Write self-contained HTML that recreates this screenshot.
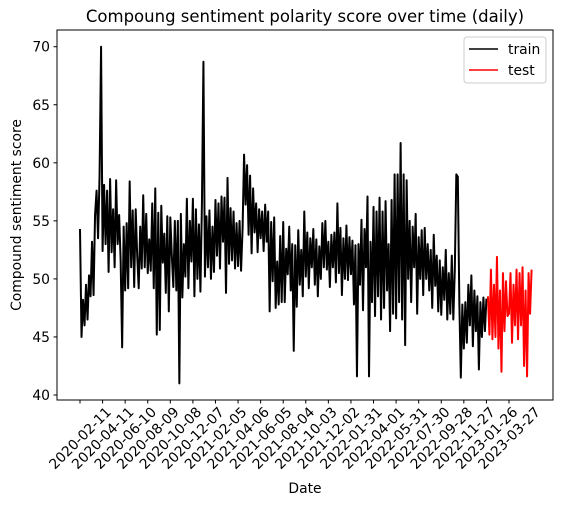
<!DOCTYPE html>
<html><head><meta charset="utf-8">
<style>
html,body{margin:0;padding:0;background:#fff;}
svg{display:block;font-family:"DejaVu Sans","Liberation Sans",sans-serif;}
</style></head>
<body>
<svg id="chart" width="563" height="506" viewBox="0 0 563 506" xmlns="http://www.w3.org/2000/svg">
<rect x="0" y="0" width="563" height="506" fill="#fff"/>
<text x="305" y="22" font-size="16.5" text-anchor="middle">Compoung sentiment polarity score over time (daily)</text>
<g id="plot"></g>
<rect x="57" y="30" width="496" height="370" fill="none" stroke="#000" stroke-width="1"/>
<text x="305" y="493" font-size="13.9" text-anchor="middle">Date</text>
<text transform="translate(21,215) rotate(-90)" font-size="13.9" text-anchor="middle">Compound sentiment score</text>
<g>
<rect x="464" y="37" width="82" height="46" rx="3" fill="#fff" fill-opacity="0.8" stroke="#ccc"/>
<line x1="469" y1="49" x2="498" y2="49" stroke="#000" stroke-width="1.6"/>
<text x="508" y="54" font-size="13.9">train</text>
<line x1="469" y1="70" x2="498" y2="70" stroke="red" stroke-width="1.6"/>
<text x="508" y="75" font-size="13.9">test</text>
</g>
</svg>
<script>
const tickLabels = ["2020-02-11","2020-04-11","2020-06-10","2020-08-09","2020-10-08","2020-12-07","2021-02-05","2021-04-06","2021-06-05","2021-08-04","2021-10-03","2021-12-02","2022-01-31","2022-04-01","2022-05-31","2022-07-30","2022-09-28","2022-11-27","2023-01-26","2023-03-27"];
const yTicks = [40,45,50,55,60,65,70];
const startDate = "2020-02-11";
const stepDays = 4;
const trainValues = [
54.3,45.0,48.2,46.0,49.5,46.5,50.3,48.5,53.2,48.6,
55.5,57.6,53.5,58.9,70.0,52.4,58.1,53.0,57.6,50.6,
58.6,52.3,56.0,51.0,58.5,53.0,55.5,51.6,44.1,54.5,
49.0,54.8,49.2,58.4,51.0,55.9,49.3,56.0,52.0,49.2,
54.5,50.9,57.2,51.0,55.6,50.5,53.4,50.7,56.5,49.2,
57.8,45.2,55.7,45.6,56.3,51.4,53.9,48.8,55.4,47.2,
55.3,52.0,49.3,55.0,49.0,55.0,41.0,55.6,48.4,53.0,
50.2,56.9,49.2,55.0,51.5,56.9,48.5,56.0,50.0,54.7,
48.9,56.5,68.7,50.2,55.4,51.0,55.9,50.0,54.5,50.6,
56.8,52.0,56.5,50.9,57.1,53.2,57.0,48.8,58.7,51.3,
56.1,51.6,55.8,50.9,54.8,51.1,55.0,50.7,54.3,60.7,
56.4,59.8,53.8,58.9,52.2,57.8,54.0,56.5,52.3,56.0,
53.5,55.8,52.4,56.4,53.2,55.8,47.2,54.9,49.8,55.3,
47.5,51.5,47.8,53.7,48.0,54.9,48.0,52.6,50.4,54.5,
49.0,53.0,43.8,52.9,47.6,54.2,49.5,52.5,48.5,55.8,
50.2,54.0,49.2,53.5,51.0,54.3,49.5,53.4,48.5,52.8,
50.0,54.8,51.0,55.0,50.8,53.2,49.3,53.8,51.0,54.0,
49.7,56.5,50.5,54.4,48.6,53.5,50.0,54.6,49.9,53.6,
50.4,53.3,47.8,52.9,41.6,53.0,49.5,55.1,47.3,54.3,
51.0,57.1,41.6,53.2,48.0,56.2,46.8,55.8,48.5,57.0,
46.5,55.8,47.5,56.7,49.0,53.0,45.5,56.8,47.0,59.0,
46.6,59.0,48.0,61.7,46.5,59.0,44.3,58.5,50.0,55.0,
48.0,54.5,51.0,55.6,47.0,53.6,50.0,54.2,48.6,54.4,
50.0,53.0,49.0,52.5,47.5,53.8,49.4,52.0,47.2,51.6,
46.9,51.0,48.2,52.5,46.5,50.5,47.0,52.0,46.5,50.8,
59.0,58.8,48.0,41.5,47.8,44.0,48.0,44.5,49.5,46.0,
50.3,44.2,49.0,45.5,48.5,42.2,48.0,45.0,48.4,45.5,
48.3];
const testValues = [48.5,45.2,50.8,44.8,49.5,45.0,51.9,44.0,49.0,42.0,
50.5,45.5,49.8,46.8,47.0,50.5,44.5,49.5,46.0,50.8,
44.8,50.5,46.0,51.0,42.5,49.0,41.6,50.5,47.0,50.8];

const NS = "http://www.w3.org/2000/svg";
const svg = document.getElementById("chart");
const plot = document.getElementById("plot");
const DAY = 86400000;
const t0 = Date.parse(startDate+"T00:00:00Z");
function dayOf(s){return (Date.parse(s+"T00:00:00Z")-t0)/DAY;}
const pxPerDay = (509-80)/dayOf(tickLabels[tickLabels.length-1]);
function xScale(d){return 80 + d*pxPerDay;}
function yScale(v){return 395 - (v-40)*(348.3/30);}

yTicks.forEach(v=>{
  const y=yScale(v);
  const l=document.createElementNS(NS,"line");
  l.setAttribute("x1",53.5);l.setAttribute("x2",57);l.setAttribute("y1",y);l.setAttribute("y2",y);
  l.setAttribute("stroke","#000");
  
  
  svg.appendChild(l);
  const t=document.createElementNS(NS,"text");
  t.setAttribute("x",50);t.setAttribute("y",y+5);t.setAttribute("font-size","13.9");t.setAttribute("text-anchor","end");
  t.textContent=v;
  
  
  svg.appendChild(t);
});
tickLabels.forEach(s=>{
  const x=xScale(dayOf(s));
  const l=document.createElementNS(NS,"line");
  l.setAttribute("x1",x);l.setAttribute("x2",x);l.setAttribute("y1",400);l.setAttribute("y2",403.5);
  l.setAttribute("stroke","#000");
  
  
  svg.appendChild(l);
  const t=document.createElementNS(NS,"text");
  t.setAttribute("transform","translate("+x+",438) rotate(-45)");
  t.setAttribute("font-size","13.9");t.setAttribute("text-anchor","middle");t.setAttribute("dy","0.35em");
  t.textContent=s;
  
  
  svg.appendChild(t);
});
function drawSeries(vals, startIdx, color, name){
  let d="";
  vals.forEach((v,i)=>{
    const x=xScale((startIdx+i)*stepDays), y=yScale(v);
    d += (i?"L":"M")+x.toFixed(2)+","+y.toFixed(2);
  });
  const p=document.createElementNS(NS,"path");
  p.setAttribute("d",d);p.setAttribute("fill","none");p.setAttribute("stroke",color);
  p.setAttribute("stroke-width","2");p.setAttribute("stroke-linejoin","round");
  
  
  plot.appendChild(p);
}
drawSeries(trainValues,0,"#000","train-line");
drawSeries(testValues,trainValues.length,"red","test-line");
</script>
</body></html>
